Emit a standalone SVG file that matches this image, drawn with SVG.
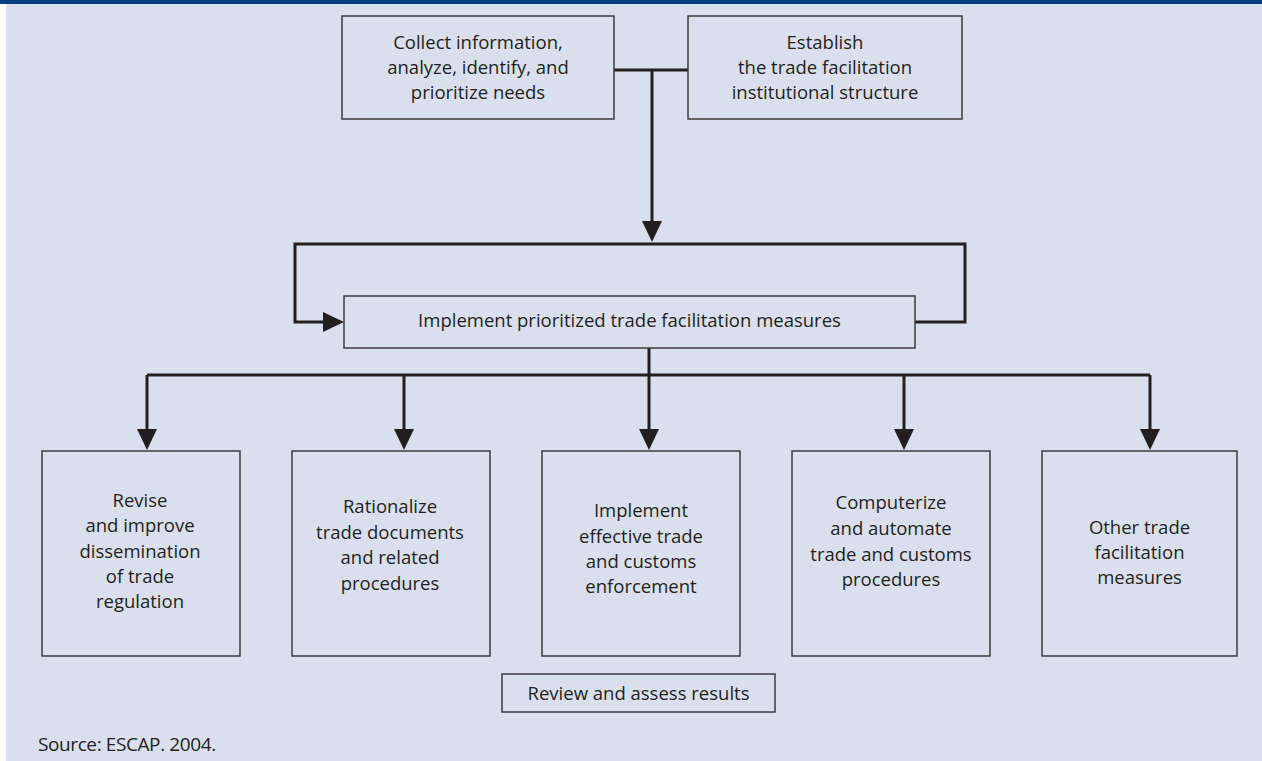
<svg xmlns="http://www.w3.org/2000/svg" width="1262" height="761" viewBox="0 0 1262 761">
  <style>
    .box { fill: #d9dfec; stroke: #3d3b3c; stroke-width: 1.5; }
    .lbl { font-family: "Open Sans", "Noto Sans", "Liberation Sans", sans-serif; font-size: 18.5px; fill: #231f20; text-anchor: middle; }
    .src { font-family: "Open Sans", "Noto Sans", "Liberation Sans", sans-serif; font-size: 19px; fill: #231f20; letter-spacing: -0.4px; }
    .wire { fill: none; stroke: #231f20; stroke-width: 3; stroke-linejoin: miter; }
  </style>
  <defs>
    <marker id="head" viewBox="0 0 21 20" refX="11" refY="10" markerWidth="21" markerHeight="20" markerUnits="userSpaceOnUse" orient="auto">
      <path d="M0,0 L21,10 L0,20 Z" fill="#231f20"/>
    </marker>
  </defs>

  <!-- page -->
  <rect x="0" y="0" width="1262" height="761" fill="#ffffff"/>
  <rect x="6" y="0" width="1256" height="761" fill="#d9dfec"/>
  <rect x="0" y="0" width="1262" height="4" fill="#003f7f"/>

  <!-- connectors -->
  <g id="connectors">
    <path class="wire" d="M614,70 H688"/>
    <path class="wire" d="M652,70 V232" marker-end="url(#head)"/>
    <path class="wire" d="M915,322 H965 V244 H295 V322 H334" marker-end="url(#head)"/>
    <path class="wire" d="M649,348 V440" marker-end="url(#head)"/>
    <path class="wire" d="M147,375 H1150"/>
    <path class="wire" d="M147,375 V440" marker-end="url(#head)"/>
    <path class="wire" d="M404,375 V440" marker-end="url(#head)"/>
    <path class="wire" d="M904,375 V440" marker-end="url(#head)"/>
    <path class="wire" d="M1150,375 V440" marker-end="url(#head)"/>
  </g>

  <!-- nodes -->
  <g id="collect">
    <rect class="box" x="342" y="16" width="272" height="103"/>
    <text class="lbl" x="478" y="49">Collect information,</text>
    <text class="lbl" x="478" y="74">analyze, identify, and</text>
    <text class="lbl" x="478" y="99">prioritize needs</text>
  </g>

  <g id="establish">
    <rect class="box" x="688" y="16" width="274" height="103"/>
    <text class="lbl" x="825" y="49">Establish</text>
    <text class="lbl" x="825" y="74">the trade facilitation</text>
    <text class="lbl" x="825" y="99">institutional structure</text>
  </g>

  <g id="implement-measures">
    <rect class="box" x="344" y="296" width="571" height="52"/>
    <text class="lbl" x="629.5" y="327">Implement prioritized trade facilitation measures</text>
  </g>

  <g id="revise">
    <rect class="box" x="42" y="451" width="198" height="205"/>
    <text class="lbl" x="140" y="507">Revise</text>
    <text class="lbl" x="140" y="532">and improve</text>
    <text class="lbl" x="140" y="558">dissemination</text>
    <text class="lbl" x="140" y="583">of trade</text>
    <text class="lbl" x="140" y="608">regulation</text>
  </g>

  <g id="rationalize">
    <rect class="box" x="292" y="451" width="198" height="205"/>
    <text class="lbl" x="390" y="513">Rationalize</text>
    <text class="lbl" x="390" y="539">trade documents</text>
    <text class="lbl" x="390" y="564">and related</text>
    <text class="lbl" x="390" y="590">procedures</text>
  </g>

  <g id="enforcement">
    <rect class="box" x="542" y="451" width="198" height="205"/>
    <text class="lbl" x="641" y="517">Implement</text>
    <text class="lbl" x="641" y="543">effective trade</text>
    <text class="lbl" x="641" y="568">and customs</text>
    <text class="lbl" x="641" y="593">enforcement</text>
  </g>

  <g id="computerize">
    <rect class="box" x="792" y="451" width="198" height="205"/>
    <text class="lbl" x="891" y="509">Computerize</text>
    <text class="lbl" x="891" y="535">and automate</text>
    <text class="lbl" x="891" y="561">trade and customs</text>
    <text class="lbl" x="891" y="586">procedures</text>
  </g>

  <g id="other-measures">
    <rect class="box" x="1042" y="451" width="195" height="205"/>
    <text class="lbl" x="1139.5" y="534">Other trade</text>
    <text class="lbl" x="1139.5" y="559">facilitation</text>
    <text class="lbl" x="1139.5" y="584">measures</text>
  </g>

  <g id="review">
    <rect class="box" x="502" y="674" width="273" height="38"/>
    <text class="lbl" x="638.5" y="700">Review and assess results</text>
  </g>

  <text class="src" x="38" y="751">Source: ESCAP. 2004.</text>
</svg>
